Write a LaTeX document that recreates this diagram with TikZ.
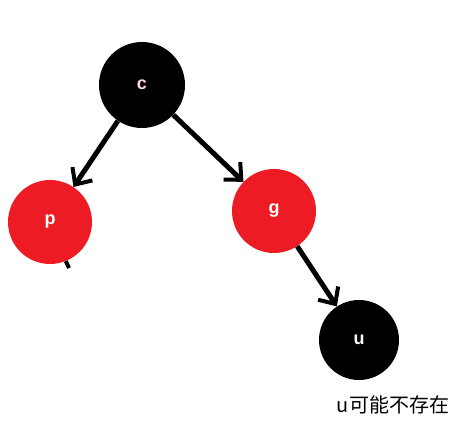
\documentclass[tikz,border=0pt]{standalone}
\usepackage{fontspec}
\setsansfont{Liberation Sans}
\newfontfamily\cjk{Noto Sans CJK SC}
\usetikzlibrary{arrows.meta}
\definecolor{RBred}{RGB}{237,28,36}
\definecolor{Ctext}{RGB}{255,215,220}

\tikzset{
  rbnode/.style={circle,inner sep=0pt,minimum size=84pt,text=white,
    font=\sffamily\bfseries\fontsize{18}{19}\selectfont},
  rednode/.style={rbnode,fill=RBred},
  blacknode/.style={rbnode,fill=black},
  link/.style={line width=5pt,-{Straight Barb[length=13pt,width=24pt,line width=4pt]}},
}

\begin{document}
\begin{tikzpicture}[x=1pt,y=-1pt]
\path[use as bounding box] (0,0) rectangle (460,430);
% nodes
\node[blacknode,minimum size=86pt,text=Ctext] (c) at (142,85) {c};
\node[rednode] (p) at (50,222) {p};
\node[rednode] (g) at (274,211) {g};
\node[blacknode,minimum size=80pt] (u) at (359,340) {u};
% links
\draw[link] (c) -- (p);
\draw[link] (c) -- (g);
\draw[link] (g) -- (u);
\coordinate (pstub) at (69,268);
\draw[line width=4pt] (p.-68) -- (pstub);
% note
\node[font=\cjk\fontsize{20}{21}\selectfont] (note) at (393,405) {u可能不存在};
\end{tikzpicture}
\end{document}
